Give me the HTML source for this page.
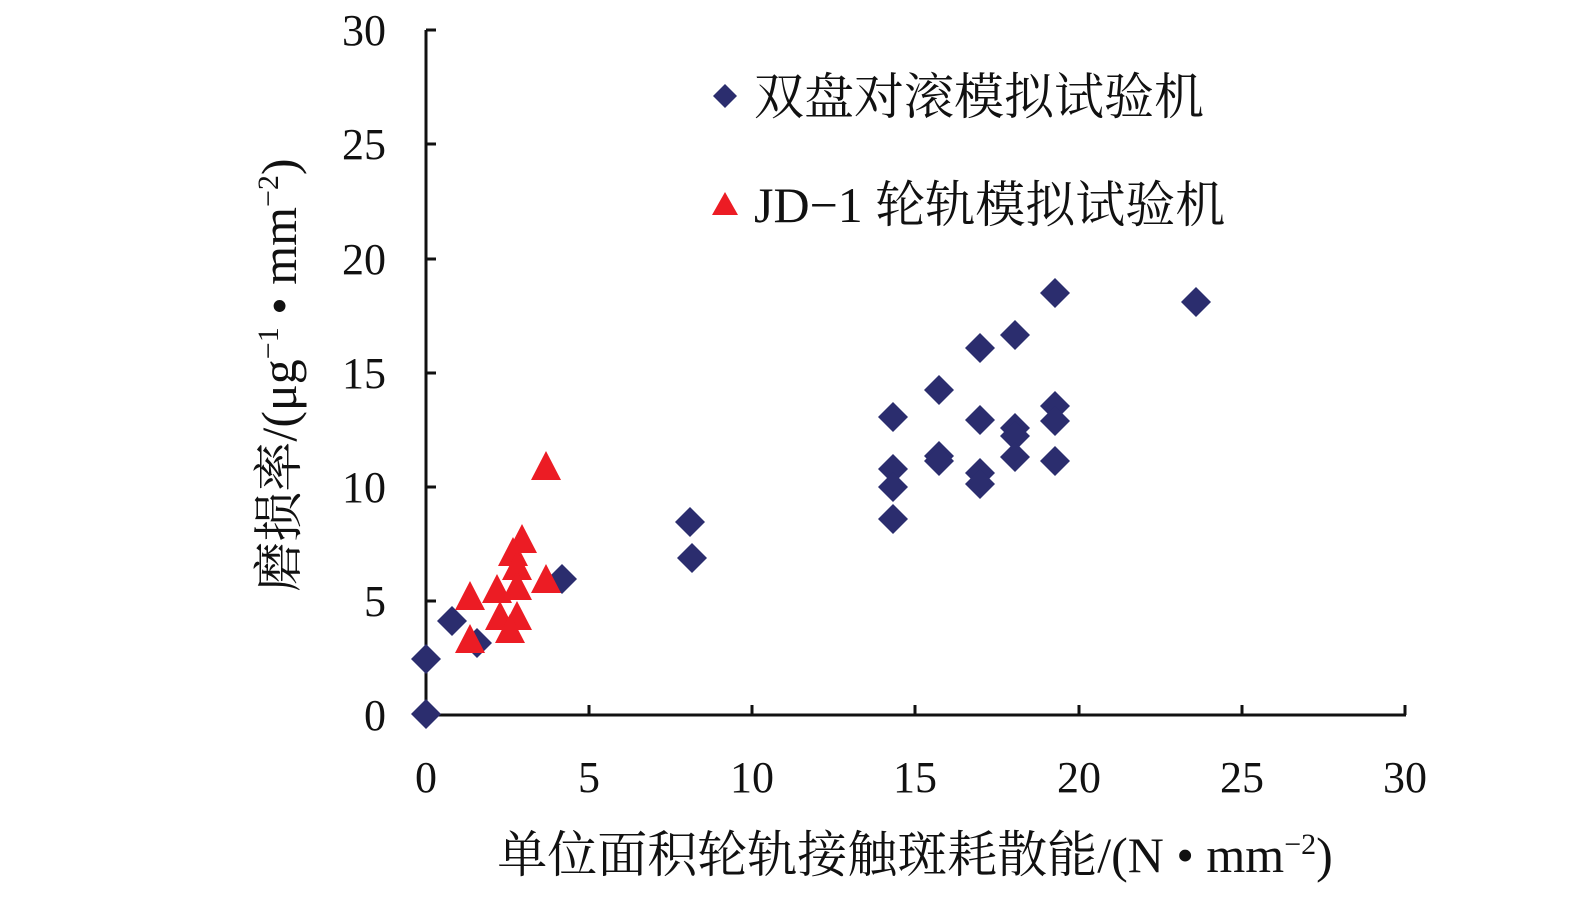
<!DOCTYPE html>
<html><head><meta charset="utf-8"><style>body{margin:0;background:#fff}</style></head><body>
<svg width="1575" height="896" xmlns="http://www.w3.org/2000/svg" font-family="Liberation Serif, Noto Serif CJK SC, serif">
<defs>
<polygon id="d" points="0,-15 15,0 0,15 -15,0" fill="#2b2d6e"/>
<polygon id="t" points="0,-16 15,13 -15,13" fill="#ec1c24"/>
</defs>
<g stroke="#111" stroke-width="3" fill="none">
<line x1="426" y1="30" x2="426" y2="716"/>
<line x1="424" y1="715" x2="1406" y2="715"/>
<line x1="426" y1="30" x2="436" y2="30"/><line x1="426" y1="144" x2="436" y2="144"/><line x1="426" y1="259" x2="436" y2="259"/><line x1="426" y1="373" x2="436" y2="373"/><line x1="426" y1="487" x2="436" y2="487"/><line x1="426" y1="601" x2="436" y2="601"/>
<line x1="589" y1="715" x2="589" y2="705"/><line x1="752" y1="715" x2="752" y2="705"/><line x1="915" y1="715" x2="915" y2="705"/><line x1="1079" y1="715" x2="1079" y2="705"/><line x1="1242" y1="715" x2="1242" y2="705"/><line x1="1405" y1="715" x2="1405" y2="705"/>
</g>
<g font-size="44" text-anchor="end" fill="#111">
<text x="386" y="45">30</text><text x="386" y="159">25</text><text x="386" y="274">20</text><text x="386" y="388">15</text><text x="386" y="502">10</text><text x="386" y="616">5</text><text x="386" y="730">0</text>
</g>
<g font-size="44" text-anchor="middle" fill="#111">
<text x="426" y="792">0</text><text x="589" y="792">5</text><text x="752" y="792">10</text><text x="915" y="792">15</text><text x="1079" y="792">20</text><text x="1242" y="792">25</text><text x="1405" y="792">30</text>
<text x="915" y="872" font-size="50">单位面积轮轨接触斑耗散能/(N • mm<tspan font-size="30" dy="-18">−2</tspan><tspan dy="18">)</tspan></text>
<text transform="translate(296,375) rotate(-90)" font-size="50">磨损率/(μg<tspan font-size="30" dy="-18">−1</tspan><tspan dy="18"> • mm</tspan><tspan font-size="30" dy="-18">−2</tspan><tspan dy="18">)</tspan></text>
</g>
<g>
<use href="#d" x="426" y="714"/><use href="#d" x="426" y="659"/><use href="#d" x="452" y="621"/><use href="#d" x="477" y="643"/><use href="#d" x="562" y="579"/><use href="#d" x="690" y="522"/><use href="#d" x="692" y="558"/><use href="#d" x="893" y="417"/><use href="#d" x="893" y="469"/><use href="#d" x="893" y="487"/><use href="#d" x="893" y="519"/><use href="#d" x="939" y="390"/><use href="#d" x="939" y="456"/><use href="#d" x="939" y="461"/><use href="#d" x="980" y="348"/><use href="#d" x="980" y="420"/><use href="#d" x="980" y="473"/><use href="#d" x="980" y="484"/><use href="#d" x="1015" y="335"/><use href="#d" x="1015" y="428"/><use href="#d" x="1015" y="436"/><use href="#d" x="1015" y="457"/><use href="#d" x="1055" y="293"/><use href="#d" x="1055" y="406"/><use href="#d" x="1055" y="421"/><use href="#d" x="1055" y="461"/><use href="#d" x="1196" y="302"/>
</g>
<g>
<use href="#t" x="546" y="467"/><use href="#t" x="522" y="540"/><use href="#t" x="513" y="553"/><use href="#t" x="517" y="567"/><use href="#t" x="497" y="590"/><use href="#t" x="470" y="597"/><use href="#t" x="546" y="580"/><use href="#t" x="517" y="587"/><use href="#t" x="500" y="617"/><use href="#t" x="517" y="617"/><use href="#t" x="510" y="630"/><use href="#t" x="470" y="640"/>
</g>
<polygon points="725,84 737,96 725,108 713,96" fill="#2b2d6e"/>
<polygon points="725,192 738,215 712,215" fill="#ec1c24"/>
<g font-size="50" fill="#111">
<text x="754" y="114">双盘对滚模拟试验机</text>
<text x="754" y="222">JD−1 轮轨模拟试验机</text>
</g>
</svg>
</body></html>
